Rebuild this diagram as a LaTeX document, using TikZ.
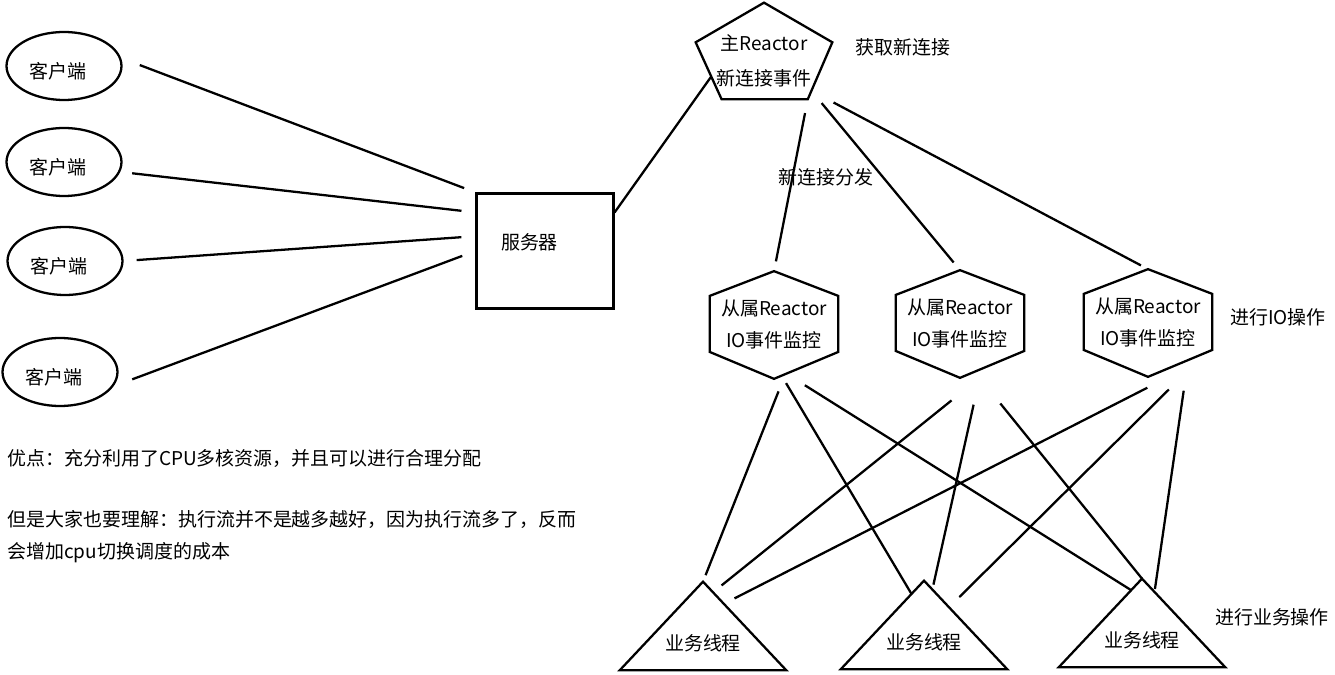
\documentclass[tikz,border=0pt]{standalone}
\usepackage{fontspec}
\setmainfont{Noto Sans CJK SC}
\usetikzlibrary{shapes.geometric,calc}

\begin{document}
\begin{tikzpicture}[
    x=0.02cm, y=-0.02cm,
    font=\fontsize{10.8pt}{13pt}\selectfont,
    client/.style={draw, ellipse, line width=1.3pt, minimum width=2.3cm, minimum height=1.36cm, inner sep=0pt,
        text height=13.8pt, text depth=0pt, execute at end node=\hspace*{0.24cm}},
    server/.style={draw, rectangle, line width=1.3pt, minimum width=2.74cm, minimum height=2.3cm, inner sep=0pt,
        text height=10pt, text depth=11.4pt, execute at end node=\hspace*{0.62cm}},
    master/.style={minimum width=2.72cm, minimum height=1.92cm, inner sep=0pt,
        font=\fontsize{10.8pt}{19.9pt}\selectfont, text height=34.4pt, text depth=18pt},
    slave/.style={minimum width=2.56cm, minimum height=2.14cm, inner sep=0pt, align=center,
        font=\fontsize{10.8pt}{18.2pt}\selectfont},
    worker/.style={minimum width=3.32cm, minimum height=1.76cm, inner sep=0pt, text height=0.97cm, text depth=0pt},
    note/.style={anchor=west, inner sep=0pt, align=left, font=\fontsize{10.8pt}{18.2pt}\selectfont},
    link/.style={line width=1.3pt},
    outline/.style={line width=1.3pt, line join=miter}
]
\useasboundingbox (0,0) rectangle (1335,675);

% clients
\foreach \n/\x/\y in {1/64/66, 2/64/162, 3/65/261, 4/60/372}
    \node[client] (c\n) at (\x,\y) {客户端};

% server
\node[server] (srv) at (545,251) {服务器};

% main reactor
\node[master] (m) at (764,51) {\begin{tabular}{@{}c@{}}主Reactor\\新连接事件\end{tabular}};
\coordinate (m-1) at (m.north);
\coordinate (m-2) at ($(m.north east)!0.41!(m.south east)$);
\coordinate (m-3) at ($(m.south west)!0.82!(m.south east)$);
\coordinate (m-4) at ($(m.south west)!0.19!(m.south east)$);
\coordinate (m-5) at ($(m.north west)!0.41!(m.south west)$);
\draw[outline] (m-1) -- (m-2) -- (m-3) -- (m-4) -- (m-5) -- cycle;

% sub reactors
\foreach \n/\x/\y in {1/774/325, 2/960/324, 3/1148/323} {
    \node[slave] (s\n) at (\x,\y) {从属Reactor\\IO事件监控};
    \draw[outline] (s\n.north) -- ($(s\n.north east)!0.23!(s\n.south east)$)
        -- ($(s\n.north east)!0.75!(s\n.south east)$) -- (s\n.south)
        -- ($(s\n.north west)!0.75!(s\n.south west)$)
        -- ($(s\n.north west)!0.23!(s\n.south west)$) -- cycle;
}

% worker threads
\foreach \n/\x/\y in {1/703/626, 2/924/625, 3/1142/623} {
    \node[worker] (w\n) at (\x,\y) {业务线程};
    \draw[outline] (w\n.north) -- (w\n.south east) -- (w\n.south west) -- cycle;
}

% side labels
\node (getlbl) at (903,47) {获取新连接};
\node (distlbl) at (826,177) {新连接分发};
\node (iolbl) at (1278,317) {进行IO操作};
\node (joblbl) at (1272,617) {进行业务操作};

% notes
\node[note] (pro) at (7,459) {优点：充分利用了CPU多核资源，并且可以进行合理分配};
\node[note] (con) at (7,537) {但是大家也要理解：执行流并不是越多越好，因为执行流多了，反而\\会增加cpu切换调度的成本};

% clients to server
\draw[link, shorten <=0.4cm, shorten >=0.24cm] (c1.8) -- (srv.north west);
\draw[link, shorten <=0.24cm, shorten >=0.28cm] (c2.-10) -- (srv.151);
\draw[link, shorten <=0.26cm, shorten >=0.28cm] (c3.east) -- (srv.168);
\draw[link, shorten <=0.4cm, shorten >=0.28cm] (c4.-15) -- (srv.west);

% server to main reactor
\draw[link] (srv.29) -- ($(m-5)!0.6!(m-4)$);

% main reactor to sub reactors
\draw[link, shorten <=0.28cm, shorten >=0.2cm] (m-3) -- (s1.north);
\draw[link, shorten <=0.32cm, shorten >=0.2cm] ($(m-3)!0.15!(m-2)$) -- (s2.north);
\draw[link, shorten <=0.5cm, shorten >=0.16cm] ($(m-3)!0.15!(m-2)$) -- (s3.north);

% sub reactors to worker threads
\draw[link, shorten <=0.27cm, shorten >=0.14cm] (s1.-80) -- (w1.north);
\draw[link, shorten <=0.1cm] (s1.-80) -- ($(w2.north)!0.15!(w2.south west)$);
\draw[link, shorten <=0.24cm] (s1.-69) -- ($(w3.north)!0.13!(w3.south west)$);
\draw[link, shorten <=0.72cm, shorten >=0.22cm] (s2.-70) -- ($(w1.north)!0.12!(w1.south east)$);
\draw[link, shorten <=0.55cm, shorten >=0.1cm] (s2.-70) -- ($(w2.north)!0.1!(w2.south east)$);
\draw[link, shorten <=0.66cm] (s2.-70) -- (w3.north);
\draw[link, shorten <=0.48cm, shorten >=0.24cm] (s3.-69) -- ($(w1.north)!0.25!(w1.south east)$);
\draw[link, shorten <=0.36cm, shorten >=0.29cm] (s3.-58) -- ($(w2.north)!0.3!(w2.south east)$);
\draw[link, shorten <=0.28cm, shorten >=0.06cm] (s3.-55) -- ($(w3.north)!0.15!(w3.south east)$);

\end{tikzpicture}
\end{document}
